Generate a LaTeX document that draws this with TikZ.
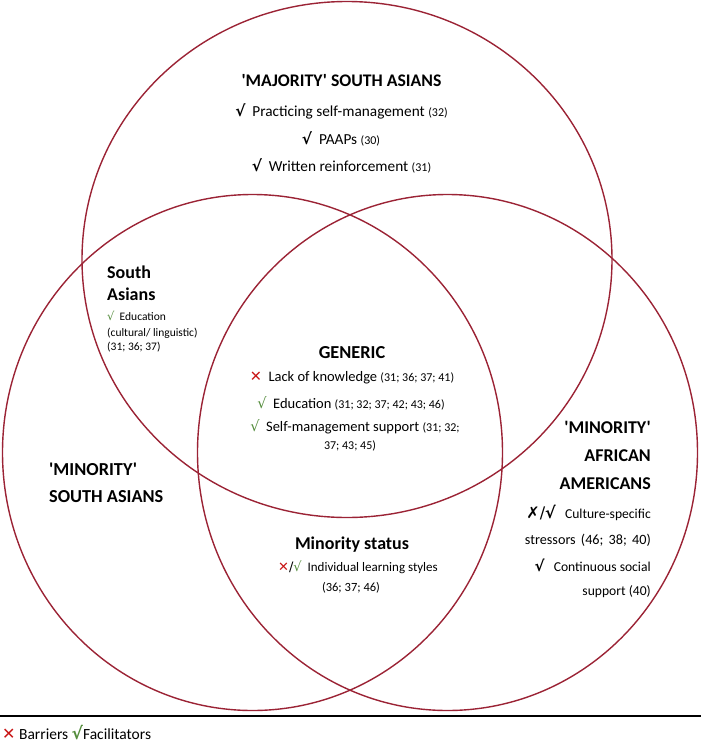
\documentclass[tikz,border=0pt]{standalone}
\usepackage{fontspec}
\setmainfont{Carlito}[Ligatures=TeXOff]
\newfontfamily\symf{DejaVu Sans}
\definecolor{vred}{RGB}{155,35,53}
\definecolor{xred}{RGB}{200,20,20}
\definecolor{cgreen}{RGB}{84,140,60}
\newcommand\rf[1]{{\fontsize{12}{14}\selectfont #1}}
\newcommand\ck{{\symf\bfseries √}}
\newcommand\gck{{\color{cgreen}\symf √}}
\newcommand\rx{{\color{xred}\symf ✕}}
\begin{document}
\begin{tikzpicture}[x=1pt,y=-1pt,
  circ/.style={draw=vred,line width=1.4pt},
  hd/.style={font=\bfseries\fontsize{18}{20}\selectfont,inner sep=0},
  it/.style={font=\fontsize{14.5}{17}\selectfont,inner sep=0},
  tp/.style={font=\fontsize{15.3}{17}\selectfont,inner sep=0},
  sm/.style={font=\fontsize{11.5}{13}\selectfont,inner sep=0},
  aa/.style={font=\fontsize{13.6}{15}\selectfont,inner sep=0,anchor=east}]
\useasboundingbox (0,0) rectangle (701,745);
\coordinate (ctop) at (347,259.5);
\coordinate (cleft) at (252.5,452.5);
\coordinate (cright) at (447.5,452.5);
\draw[circ] (ctop) ellipse [x radius=265, y radius=258];
\draw[circ] (cleft) ellipse [x radius=250, y radius=258];
\draw[circ] (cright) ellipse [x radius=250, y radius=258];
% top
\node[hd,font=\bfseries\fontsize{17.7}{20}\selectfont] (t0) at (341.5,81) {'MAJORITY' SOUTH ASIANS};
\node[tp] (t1) at (341.5,111) {\ck\ \ Practicing self-management \rf{(32)}};
\node[tp] (t2) at (341,139) {\ck\ \ PAAPs \rf{(30)}};
\node[tp] (t3) at (341.5,166) {\ck\ \ Written reinforcement \rf{(31)}};
% South Asians
\node[hd,anchor=west] (s0) at (107,272) {South};
\node[hd,anchor=west] (s1) at (107,294) {Asians};
\node[sm,anchor=west] (s2) at (107,316) {\gck\ \ Education};
\node[sm,anchor=west] (s3) at (107,333) {(cultural/ linguistic)};
\node[sm,anchor=west] (s4) at (107,347) {(31; 36; 37)};
% generic
\node[hd,font=\bfseries\fontsize{18.3}{20}\selectfont] (g0) at (352,353) {GENERIC};
\node[it] (g1) at (352,378) {\rx\ \ Lack of knowledge \rf{(31; 36; 37; 41)}};
\node[it] (g2) at (351,403) {\gck\ \ Education \rf{(31; 32; 37; 42; 43; 46)}};
\node[it] (g3) at (355,427) {\gck\ \ Self-management support \rf{(31; 32;}};
\node[font=\fontsize{12}{14}\selectfont,inner sep=0] (g4) at (350,446) {37; 43; 45)};
% minority status
\node[hd] (m0) at (352,545) {Minority status};
\node[font=\fontsize{13}{15}\selectfont,inner sep=0] (m1) at (358,567) {\rx{\symf/}\gck\ \ Individual learning styles};
\node[font=\fontsize{12.5}{14}\selectfont,inner sep=0] (m2) at (351,588) {(36; 37; 46)};
% minority south asians
\node[hd,font=\bfseries\fontsize{18.3}{20}\selectfont,anchor=west] (l0) at (49,469) {'MINORITY'};
\node[hd,font=\bfseries\fontsize{18.3}{20}\selectfont,anchor=west] (l1) at (49,497) {SOUTH ASIANS};
% african americans
\node[hd,anchor=east] (a0) at (651,427.5) {'MINORITY'};
\node[hd,anchor=east] (a1) at (651,455.5) {AFRICAN};
\node[hd,anchor=east] (a2) at (651,483.5) {AMERICANS};
\node[aa] (a3) at (651,512.5) {{\fontsize{16}{18}\selectfont\symf ✗/\bfseries √}\ \ \ Culture-specific};
\node[aa,font=\fontsize{14.2}{16}\selectfont] (a4) at (651,540) {stressors\hspace{2pt} (46;\hspace{2pt} 38;\hspace{2pt} 40)};
\node[aa] (a5) at (651,565) {{\fontsize{15}{17}\selectfont\ck}\ \ \ Continuous social};
\node[aa] (a6) at (651,592) {support (40)};
% legend
\coordinate (ll) at (0,716);
\coordinate (lr) at (701,716);
\draw[line width=1.5pt] (ll) -- (lr);
\node[font=\fontsize{15.5}{17}\selectfont,inner sep=0,anchor=west] (leg) at (2,733) {{\fontsize{16}{17}\selectfont\rx}\ Barriers {\fontsize{17}{18}\selectfont\color{cgreen}\symf\bfseries √}Facilitators};
\end{tikzpicture}
\end{document}
